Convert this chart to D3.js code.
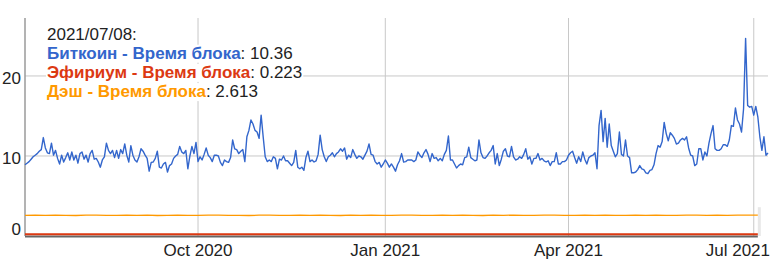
<!DOCTYPE html>
<html>
<head>
<meta charset="utf-8">
<script src="https://cdn.jsdelivr.net/npm/d3@7"></script>
<style>
  body { margin: 0; background: #fff; }
  svg text { font-family: "Liberation Sans", Arial, sans-serif; }
</style>
</head>
<body>
<div id="chart"></div>
<script>
const WIDTH = 775
const HEIGHT = 259
const MARGIN = {top: 18, right: 7, bottom: 23, left: 25}

// daily values, first day 2020-07-08
const btcStart = "2020-07-08"
const btcBlockTime = [
  8.9, 9.1, 9.3, 9.6, 9.9, 10.1, 10.3, 10.6, 10.8, 12.3,
  11.0, 10.4, 10.3, 11.6, 10.1, 10.7, 9.7, 9.0, 10.1, 9.25,
  9.8, 10.4, 9.5, 10.5, 9.5, 10.1, 9.1, 10.3, 10.5, 9.6,
  10.1, 9.25, 10.3, 10.7, 9.6, 9.7, 9.25, 8.6, 9.5, 9.9,
  11.6, 10.7, 10.3, 10.7, 9.8, 10.7, 9.7, 10.8, 10.3, 11.5,
  10.1, 9.25, 11.3, 10.1, 9.5, 9.25, 9.9, 10.9, 10.6, 10.1,
  9.7, 8.1, 9.2, 9.25, 9.7, 10.6, 8.6, 8.5, 9.0, 9.2,
  8.0, 8.8, 9.0, 9.7, 10.0, 10.2, 11.2, 10.5, 10.3, 10.7,
  8.4, 10.0, 11.2, 10.3, 11.7, 9.3, 9.9, 9.5, 10.2, 11.0,
  10.1, 9.8, 9.3, 10.1, 10.1, 10.0, 9.2, 8.8, 9.5, 9.3,
  9.2, 9.8, 12.0, 10.9, 10.8, 10.3, 10.6, 10.8, 9.3, 12.4,
  13.2, 14.5, 14.0, 13.2, 13.0, 12.2, 15.1, 12.4, 9.9, 9.3,
  9.5, 9.3, 9.9, 9.7, 8.4, 9.6, 9.5, 10.0, 9.4, 9.4,
  9.1, 8.8, 9.2, 10.7, 8.6, 8.4, 8.6, 8.2, 9.8, 10.6,
  9.3, 9.5, 9.25, 9.4, 10.2, 12.6, 10.8, 9.9, 9.3, 9.9,
  10.1, 10.4, 9.9, 10.3, 10.5, 10.9, 10.6, 11.0, 9.6, 10.1,
  9.8, 10.8, 10.2, 9.7, 10.0, 9.9, 9.6, 10.1, 10.6, 11.5,
  10.2, 10.1, 9.3, 9.0, 9.2, 8.6, 9.0, 9.5, 9.1, 8.6,
  9.0, 8.6, 8.1, 8.9, 9.4, 10.3, 9.25, 9.3, 9.5, 9.5,
  9.5, 9.3, 9.5, 10.5, 10.1, 9.8, 10.4, 10.8, 10.2, 9.3,
  10.3, 9.7, 9.8, 9.4, 9.7, 9.4, 10.2, 10.7, 12.5, 9.5,
  9.5, 9.0, 8.5, 8.8, 9.0, 8.9, 9.8, 9.9, 11.1, 9.8,
  9.6, 9.4, 9.5, 12.0, 10.4, 9.8, 9.7, 10.0, 10.4, 10.7,
  11.3, 9.0, 10.3, 8.8, 9.6, 10.6, 10.9, 10.0, 9.9, 11.2,
  9.9, 9.5, 9.6, 9.9, 9.7, 10.2, 10.9, 9.6, 9.9, 9.0,
  9.7, 9.7, 10.3, 9.5, 9.7, 9.4, 9.25, 9.4, 8.8, 9.3,
  9.3, 10.4, 9.0, 9.0, 9.3, 9.3, 9.5, 10.1, 10.4, 10.6,
  9.8, 9.1, 9.9, 9.3, 10.5, 9.6, 9.0, 9.8, 10.0, 10.1,
  10.4, 8.4, 13.8, 15.7, 11.8, 14.7, 11.1, 14.0, 11.3, 10.6,
  9.9, 10.3, 13.0, 10.2, 10.0, 12.0, 10.0, 9.8, 7.9, 7.9,
  8.0, 8.3, 8.8, 8.4, 8.3, 7.9, 7.8, 8.2, 8.3, 8.9,
  10.3, 11.3, 11.1, 11.8, 14.2, 12.8, 11.9, 12.9, 12.6, 12.2,
  11.5, 11.6, 12.0, 12.2, 12.0, 12.4, 11.0, 10.1, 10.0, 8.8,
  9.0, 10.9, 10.9, 9.5, 10.5, 10.0, 11.6, 12.8, 13.8, 10.9,
  10.7, 10.7, 10.9, 11.4, 11.4, 11.2, 12.0, 13.8, 13.7, 16.0,
  14.5, 14.0, 13.0, 15.9, 24.7, 16.3, 16.1, 16.2, 15.1, 16.2,
  14.9, 12.4, 10.7, 12.4, 10.1, 10.36
]

// every 5 days from 2020-07-08 to 2021-07-03
const stepDays = 5
const ethBlockTime = [
  0.22, 0.22, 0.21, 0.22, 0.22, 0.22, 0.21, 0.22, 0.22, 0.22,
  0.22, 0.21, 0.22, 0.22, 0.22, 0.22, 0.21, 0.22, 0.22, 0.22,
  0.22, 0.22, 0.21, 0.22, 0.22, 0.22, 0.22, 0.22, 0.21, 0.22,
  0.22, 0.22, 0.22, 0.22, 0.22, 0.21, 0.22, 0.22, 0.22, 0.22,
  0.22, 0.22, 0.21, 0.22, 0.22, 0.22, 0.22, 0.22, 0.22, 0.21,
  0.22, 0.22, 0.22, 0.22, 0.22, 0.22, 0.21, 0.22, 0.22, 0.22,
  0.22, 0.22, 0.22, 0.21, 0.22, 0.22, 0.22, 0.22, 0.22, 0.22,
  0.22, 0.22, 0.22
]
const dashBlockTime = [
  2.58, 2.60, 2.57, 2.61, 2.59, 2.56, 2.60, 2.62, 2.58, 2.57,
  2.61, 2.59, 2.60, 2.56, 2.58, 2.61, 2.59, 2.57, 2.60, 2.62,
  2.58, 2.59, 2.56, 2.60, 2.61, 2.58, 2.57, 2.60, 2.59, 2.62,
  2.58, 2.56, 2.60, 2.59, 2.61, 2.57, 2.58, 2.60, 2.62, 2.59,
  2.57, 2.60, 2.58, 2.61, 2.59, 2.56, 2.60, 2.58, 2.61, 2.59,
  2.57, 2.60, 2.62, 2.58, 2.59, 2.61, 2.57, 2.60, 2.58, 2.59,
  2.61, 2.58, 2.60, 2.57, 2.59, 2.62, 2.60, 2.58, 2.61, 2.59,
  2.60, 2.61, 2.60
]

const seriesNames = ["Биткоин - Время блока", "Эфириум - Время блока", "Дэш - Время блока"]
const seriesColors = ["#3366cc", "#dc3912", "#ff9900"]
const legendDate = "2021-07-08"
const legendValues = ["10.36", "0.223", "2.613"]

const xTicks = ["2020-10-01", "2021-01-01", "2021-04-01", "2021-07-01"]
const yTicks = [0, 10, 20]

const parse = d3.timeParse("%Y-%m-%d")
const start = parse(btcStart)

let btc = btcBlockTime.map((v, i) => ({date: d3.timeDay.offset(start, i), value: v}))
let eth = ethBlockTime.map((v, i) => ({date: d3.timeDay.offset(start, i * stepDays), value: v}))
let dash = dashBlockTime.map((v, i) => ({date: d3.timeDay.offset(start, i * stepDays), value: v}))

let svg = d3.select('#chart')
    .append('svg')
    .attr('width', WIDTH)
    .attr('height', HEIGHT)

let xScale = d3.scaleTime()
    .domain([start, btc[btc.length - 1].date])
    .range([MARGIN.left, WIDTH - MARGIN.right])

let yMax = d3.max(btcBlockTime) * 1.103
let yScale = d3.scaleLinear()
    .domain([0, yMax])
    .range([HEIGHT - MARGIN.bottom, MARGIN.top])

// grid
svg.append('g')
    .selectAll('line')
    .data(yTicks.filter(t => t > 0))
    .join('line')
    .attr('x1', MARGIN.left)
    .attr('x2', WIDTH - MARGIN.right)
    .attr('y1', d => yScale(d))
    .attr('y2', d => yScale(d))
    .style('stroke', '#c8c8c8')
    .style('stroke-width', 1)

svg.append('g')
    .selectAll('line')
    .data(xTicks.map(parse))
    .join('line')
    .attr('x1', d => xScale(d))
    .attr('x2', d => xScale(d))
    .attr('y1', MARGIN.top)
    .attr('y2', HEIGHT - MARGIN.bottom)
    .style('stroke', '#c8c8c8')
    .style('stroke-width', 1)

// y axis line
svg.append('line')
    .attr('x1', MARGIN.left)
    .attr('x2', MARGIN.left)
    .attr('y1', MARGIN.top)
    .attr('y2', HEIGHT - MARGIN.bottom)
    .style('stroke', '#9a9a9a')
    .style('stroke-width', 1.5)

// light bar at the end of the short series
let lastShort = dash[dash.length - 1].date
svg.append('rect')
    .attr('x', xScale(lastShort))
    .attr('y', yScale(3.6))
    .attr('width', 3)
    .attr('height', yScale(0) - yScale(3.6))
    .style('fill', '#e8e8e8')

// x axis line
svg.append('line')
    .attr('x1', MARGIN.left)
    .attr('x2', xScale(lastShort))
    .attr('y1', yScale(0) + 0.5)
    .attr('y2', yScale(0) + 0.5)
    .style('stroke', '#666')
    .style('stroke-width', 2)

let line = d3.line()
    .x(d => xScale(d.date))
    .y(d => yScale(d.value))

svg.append('path')
    .datum(dash)
    .attr('d', line)
    .style('fill', 'none')
    .style('stroke', seriesColors[2])
    .style('stroke-width', 1.3)

svg.append('path')
    .datum(eth)
    .attr('d', line)
    .style('fill', 'none')
    .style('stroke', seriesColors[1])
    .style('stroke-width', 2)

svg.append('path')
    .datum(btc)
    .attr('d', line)
    .style('fill', 'none')
    .style('stroke', seriesColors[0])
    .style('stroke-width', 1.4)
    .style('stroke-linejoin', 'round')

// y labels
svg.append('g')
    .selectAll('text')
    .data(yTicks)
    .join('text')
    .attr('x', MARGIN.left - 4)
    .attr('y', d => d === 0 ? yScale(0) - 1 : yScale(d) + 8)
    .attr('text-anchor', 'end')
    .style('font-size', '17px')
    .style('fill', '#222')
    .text(d => d)

// x labels
let fmt = d3.timeFormat("%b %Y")
svg.append('g')
    .selectAll('text')
    .data(xTicks.map(parse))
    .join('text')
    .attr('x', d => xScale(d))
    .attr('y', 256)
    .attr('text-anchor', 'middle')
    .style('font-size', '17px')
    .style('fill', '#222')
    .text(d => fmt(d))
    .each(function() {
        let w = this.getComputedTextLength()
        let cx = +this.getAttribute('x')
        if (cx + w / 2 > WIDTH - 5) this.setAttribute('x', WIDTH - 5 - w / 2)
    })

// legend
let legend = svg.append('g')
let lx = 47
let ly = 39.5
let lh = 19.2
let legendFmt = d3.timeFormat("%Y/%m/%d")

let lines = [[{t: legendFmt(parse(legendDate)) + ":", c: '#222', b: false}]]
seriesNames.forEach((name, i) => {
    lines.push([{t: name, c: seriesColors[i], b: true}, {t: ": " + legendValues[i], c: '#222', b: false}])
})

lines.forEach((parts, i) => {
    let bg = legend.append('rect')
        .style('fill', '#fff')
    let txt = legend.append('text')
        .attr('x', lx)
        .attr('y', ly + i * lh)
        .style('font-size', '17px')
    parts.forEach(p => {
        txt.append('tspan')
            .text(p.t)
            .style('fill', p.c)
            .style('font-weight', p.b ? 'bold' : 'normal')
    })
    let w = txt.node().getComputedTextLength()
    bg.attr('x', lx - 1)
        .attr('y', ly + i * lh - 14)
        .attr('width', w + 2)
        .attr('height', 18)
})
</script>
</body>
</html>
